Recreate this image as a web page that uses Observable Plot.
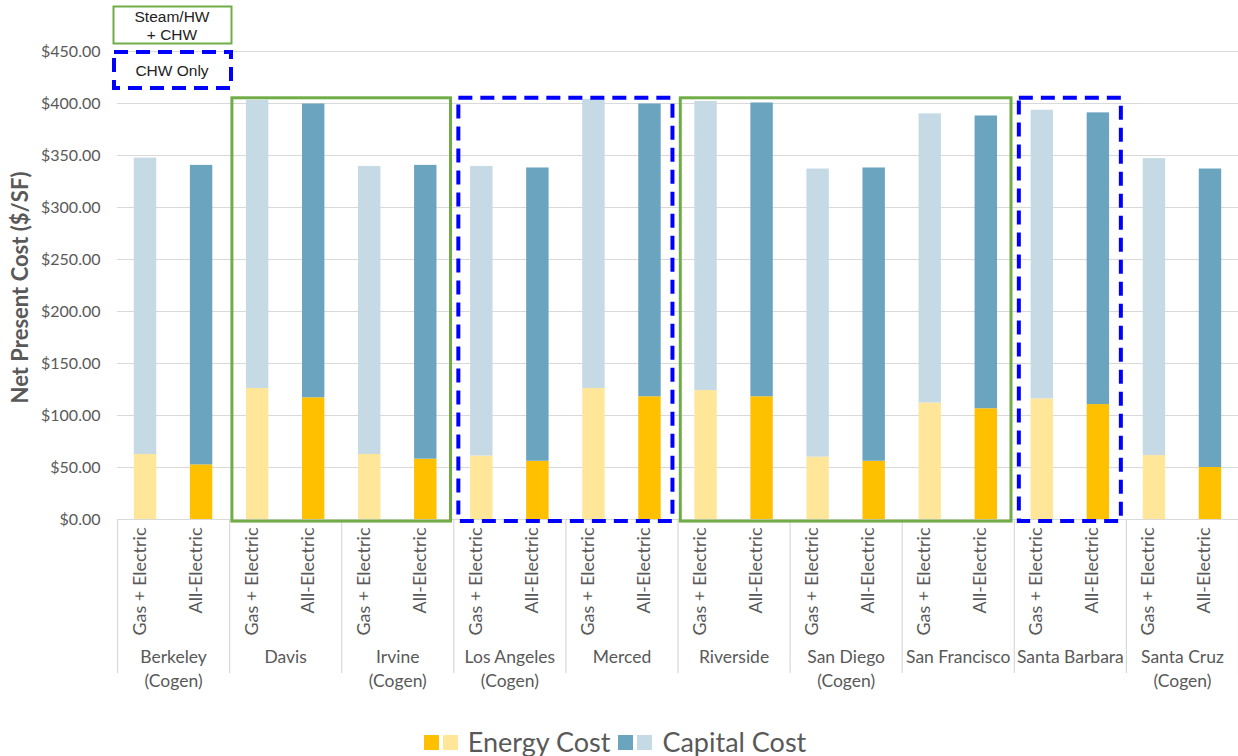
<!DOCTYPE html>
<html>
<head>
<meta charset="utf-8">
<script src="https://cdn.jsdelivr.net/npm/d3@7"></script>
<script src="https://cdn.jsdelivr.net/npm/@observablehq/plot@0.6"></script>
<style>
  html, body { margin: 0; padding: 0; background: #fff; }
  #wrap { position: relative; width: 1238px; height: 756px; font-family: Lato, "Open Sans", sans-serif; }
  #chart { position: absolute; left: 0; top: 0; }
  #key { position: absolute; left: 0; top: 0; }
  #legend { position: absolute; left: 0; top: 726px; width: 1238px; display: flex; justify-content: center; align-items: center; color: #595959; font-size: 27px; line-height: 32px; }
  #legend .sw { display: inline-block; width: 15px; height: 15px; margin-right: 4px; }
  #legend .lbl { margin-left: 6px; margin-right: 8px; }
</style>
</head>
<body>
<div id="wrap">
  <div id="chart"></div>
  <svg id="key" width="240" height="95"></svg>
  <div id="legend"></div>
</div>
<script>
// ---- data ----
const campuses = ["Berkeley","Davis","Irvine","Los Angeles","Merced","Riverside","San Diego","San Francisco","Santa Barbara","Santa Cruz"];
const campusNotes = ["(Cogen)","","(Cogen)","(Cogen)","","","(Cogen)","","","(Cogen)"];
const systems = ["Gas + Electric","All-Electric"];
const gasElecEnergy  = [62.5, 126, 62.5, 61, 126, 124, 60, 112, 116, 61.5];
const gasElecCapital = [285, 277, 277, 278.5, 278, 278, 277, 278, 277.5, 285.5];
const allElecEnergy  = [52.5, 117, 58, 56, 118, 118, 56, 106.5, 110.5, 50];
const allElecCapital = [288, 282.5, 282.5, 282, 281.5, 282.5, 282, 281.5, 280.5, 287];
const yTicks = [0, 50, 100, 150, 200, 250, 300, 350, 400, 450];
const boxFrom = ["Davis","Los Angeles","Riverside","Santa Barbara"];
const boxTo   = ["Irvine","Merced","San Francisco","Santa Barbara"];
const boxKind = ["Steam/HW + CHW","CHW Only","Steam/HW + CHW","CHW Only"];
const componentNames = ["Energy Cost","Capital Cost"];

// ---- styles ----
const colors = {
  "Energy|Gas + Electric": "#FFE699",
  "Energy|All-Electric": "#FFC000",
  "Capital|Gas + Electric": "#C5DAE5",
  "Capital|All-Electric": "#6AA4BF"
};
const grey = "#595959";
const green = "#70AD47";
const blue = "#0000FF";
const barHalf = 0.1;

// ---- build rows ----
const rows = [];
const bars = [];
campuses.forEach((c, i) => {
  systems.forEach((s, j) => {
    const e = j === 0 ? gasElecEnergy[i] : allElecEnergy[i];
    const k = j === 0 ? gasElecCapital[i] : allElecCapital[i];
    const pos = i + (j === 0 ? 0.25 : 0.75);
    bars.push({campus: c, system: s, pos});
    rows.push({pos, key: "Energy|" + s, y1: 0, y2: e});
    rows.push({pos, key: "Capital|" + s, y1: e, y2: e + k});
  });
});
const boxes = boxFrom.map((f, i) => ({
  x1: campuses.indexOf(f),
  x2: campuses.indexOf(boxTo[i]) + 1,
  kind: boxKind[i]
}));
const pad = 0.025;

const plot = Plot.plot({
  width: 1238,
  height: 700,
  marginLeft: 117,
  marginRight: 0,
  marginTop: 51,
  marginBottom: 181,
  style: {fontFamily: "Lato, 'Open Sans', sans-serif", color: grey, background: "transparent"},
  x: {type: "linear", domain: [0, campuses.length], axis: null},
  y: {domain: [0, 450], axis: null},
  color: {domain: Object.keys(colors), range: Object.values(colors)},
  marks: [
    Plot.ruleY(yTicks, {stroke: "#D9D9D9", strokeWidth: 1.2}),
    Plot.ruleX(d3.range(campuses.length + 1), {x: d => d, y1: 0, y2: -148, stroke: "#D9D9D9", strokeWidth: 1.2}),
    Plot.rect(rows, {x1: d => d.pos - barHalf, x2: d => d.pos + barHalf, y1: "y1", y2: "y2", fill: "key"}),
    Plot.rect(boxes.filter(b => b.kind === boxKind[0]), {
      x1: d => d.x1 + pad, x2: d => d.x2 - pad, y1: -2, y2: 405,
      fill: "none", stroke: green, strokeWidth: 3
    }),
    Plot.rect(boxes.filter(b => b.kind === boxKind[1]), {
      x1: d => d.x1 + pad + 0.02, x2: d => d.x2 - pad - 0.02, y1: -2, y2: 405,
      fill: "none", stroke: blue, strokeWidth: 4, strokeDasharray: "14,8"
    }),
    Plot.axisY(yTicks, {tickSize: 0, tickPadding: 17, tickFormat: d => "$" + d.toFixed(2), fontSize: 16, fill: grey}),
    Plot.text(["Net Present Cost ($/SF)"], {frameAnchor: "left", textAnchor: "middle", rotate: -90, dx: -97, dy: 2, fontSize: 22, fontWeight: "bold", fill: grey}),
    Plot.text(bars, {x: "pos", text: "system", frameAnchor: "bottom", rotate: -90, textAnchor: "end", dy: 8, fontSize: 18, fill: grey}),
    Plot.text(campuses, {x: (d, i) => i + 0.5, text: d => d, frameAnchor: "bottom", dy: 143, fontSize: 17.5, fill: grey}),
    Plot.text(campusNotes, {x: (d, i) => i + 0.5, text: d => d, frameAnchor: "bottom", dy: 167, fontSize: 17.5, fill: grey})
  ]
});
document.getElementById("chart").appendChild(plot);

// ---- top-left key (annotation boxes) ----
const key = d3.select("#key");
const keyFont = "'Liberation Sans', Arial, sans-serif";
key.append("rect").attr("x", 113.5).attr("y", 6.5).attr("width", 118).attr("height", 37)
  .attr("fill", "none").attr("stroke", green).attr("stroke-width", 2);
key.append("text").attr("x", 172).attr("y", 22).attr("text-anchor", "middle")
  .attr("font-family", keyFont).attr("font-size", 15.5).attr("fill", "#222")
  .text("Steam/HW");
key.append("text").attr("x", 172).attr("y", 40).attr("text-anchor", "middle")
  .attr("font-family", keyFont).attr("font-size", 15.5).attr("fill", "#222")
  .text("+ CHW");
key.append("rect").attr("x", 114).attr("y", 52).attr("width", 117).attr("height", 36)
  .attr("fill", "none").attr("stroke", blue).attr("stroke-width", 4).attr("stroke-dasharray", "14,8");
key.append("text").attr("x", 172).attr("y", 76).attr("text-anchor", "middle")
  .attr("font-family", keyFont).attr("font-size", 15.5).attr("fill", "#222")
  .text("CHW Only");

// ---- bottom legend ----
const legend = document.getElementById("legend");
[["Energy|All-Electric","Energy|Gas + Electric"],["Capital|All-Electric","Capital|Gas + Electric"]].forEach((pair, i) => {
  pair.forEach(k => {
    const s = document.createElement("span");
    s.className = "sw"; s.style.background = colors[k];
    legend.appendChild(s);
  });
  const t = document.createElement("span");
  t.className = "lbl"; t.textContent = componentNames[i];
  legend.appendChild(t);
});
</script>
</body>
</html>
